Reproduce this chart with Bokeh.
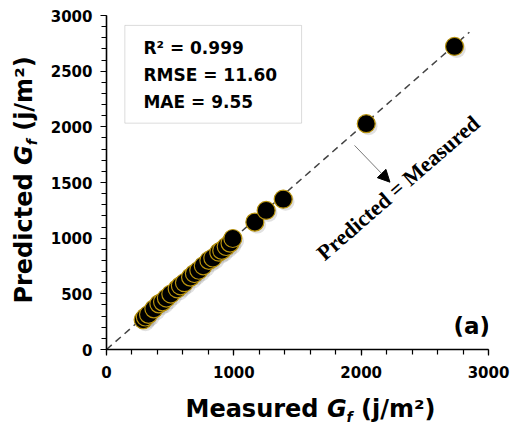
from bokeh.plotting import figure
from bokeh.models import (ColumnDataSource, Range1d, SingleIntervalTicker, Label,
                          BoxAnnotation, Arrow, NormalHead, Div)
from bokeh.layouts import row, column
from bokeh.transform import dodge
from bokeh.embed import file_html
from bokeh.resources import INLINE

# ---- data ----
measured = [288, 305, 330, 372, 411, 440, 470, 505, 555, 580, 612, 660, 690,
            725, 760, 804, 835, 882, 905, 940, 970, 992, 1165, 1254, 1388, 2040, 2733]
predicted = [267, 292, 315, 365, 410, 428, 462, 498, 545, 572, 600, 650, 682,
             712, 752, 800, 822, 874, 890, 925, 955, 997, 1144, 1249, 1350, 2028, 2722]
ref_line = [0, 2850]
x_ticks_interval = 1000
y_ticks_interval = 500
stats = ["R\u00b2 = 0.999", "RMSE = 11.60", "MAE = 9.55"]
x_label = ("Measured", "G", "f", "(j/m\u00b2)")
y_label = ("Predicted", "G", "f", "(j/m\u00b2)")

src = ColumnDataSource(dict(x=measured, y=predicted))

FONT = "DejaVu Sans"
YW = 45      # width of the y-label strip
PH = 392     # figure height

p = figure(width=512 - YW, height=PH, output_backend="svg", toolbar_location=None,
           x_range=Range1d(0, 3000), y_range=Range1d(0, 3000),
           min_border_left=106 - YW, min_border_right=24, min_border_top=15,
           min_border_bottom=PH - 15 - 334)
p.outline_line_color = None
p.grid.visible = False
p.background_fill_color = "white"

for ax, iv in ((p.xaxis[0], x_ticks_interval), (p.yaxis[0], y_ticks_interval)):
    ax.ticker = SingleIntervalTicker(interval=iv, num_minor_ticks=5)
    ax.axis_line_width = 1.6
    ax.axis_line_color = "black"
    ax.major_tick_in = 0
    ax.major_tick_out = 6
    ax.minor_tick_in = 0
    ax.minor_tick_out = 5
    ax.major_tick_line_width = 1.2
    ax.minor_tick_line_width = 1.2
    ax.major_tick_line_color = "black"
    ax.minor_tick_line_color = "black"
    ax.major_label_text_font = FONT
    ax.major_label_text_font_style = "bold"
    ax.major_label_text_font_size = "15px"
    ax.major_label_text_color = "black"
    ax.axis_label = None
p.xaxis.major_label_standoff = 10
p.yaxis.major_label_standoff = 8

# reference line
p.line(ref_line, ref_line, line_color="#444444", line_width=1.5, line_dash="7 5")

# shadow + points
p.scatter(x=dodge("x", 18), y=dodge("y", -22), source=src, size=18,
          fill_color="#777777", fill_alpha=0.22, line_color=None)
p.scatter("x", "y", source=src, size=18, fill_color="black",
          line_color="#b8920c", line_width=1.2)

# stats box
p.add_layout(BoxAnnotation(left=144, right=1532, bottom=2033, top=2911,
                           fill_color=None, line_color="#8a8a8a", line_width=1))
for txt, yy in zip(stats, [2704, 2462, 2222]):
    p.add_layout(Label(x=290, y=yy, text=txt, text_font=FONT, text_font_style="bold",
                       text_font_size="17px", text_baseline="middle", text_color="black"))

# (a)
p.add_layout(Label(x=3012, y=207, text="(a)", text_font=FONT, text_font_style="bold",
                   text_font_size="23px", text_align="right", text_baseline="middle",
                   text_color="black"))

# arrow + rotated text
p.add_layout(Arrow(end=NormalHead(size=12, fill_color="black", line_color="black"),
                   x_start=1948, y_start=1833, x_end=2226, y_end=1503,
                   line_color="#555555", line_width=0.8))
p.add_layout(Label(x=2290, y=1452, text="Predicted = Measured", angle=41,
                   angle_units="deg", text_font="Liberation Serif",
                   text_font_style="bold", text_font_size="22px",
                   text_align="center", text_baseline="middle", text_color="black"))


def label_html(parts):
    a, g, f, b = parts
    return (f"{a} <i>{g}</i><span style=\"font-size:14px;font-style:italic;"
            f"position:relative;top:5px;\">{f}</span>&nbsp;{b}")


FONT_CSS = f"font-family:'{FONT}';font-weight:bold;font-size:24px;color:black;"

xdiv = Div(
    text=(f"<div style=\"{FONT_CSS}width:{512 - YW}px;box-sizing:border-box;"
          f"padding-left:64px;padding-top:3px;text-align:center;white-space:nowrap;"
          f"line-height:28px;\">{label_html(x_label)}</div>"),
    width=512 - YW, height=430 - PH, margin=0)

ydiv = Div(
    text=(f"<div style=\"{FONT_CSS}position:absolute;left:{25}px;top:{180}px;"
          f"transform:translate(-50%,-50%) rotate(-90deg);white-space:nowrap;"
          f"line-height:28px;\">{label_html(y_label)}</div>"),
    width=YW, height=430, margin=0)

layout = row(ydiv, column(p, xdiv, spacing=0), spacing=0)

open("out.html", "w").write(file_html(layout, INLINE))
